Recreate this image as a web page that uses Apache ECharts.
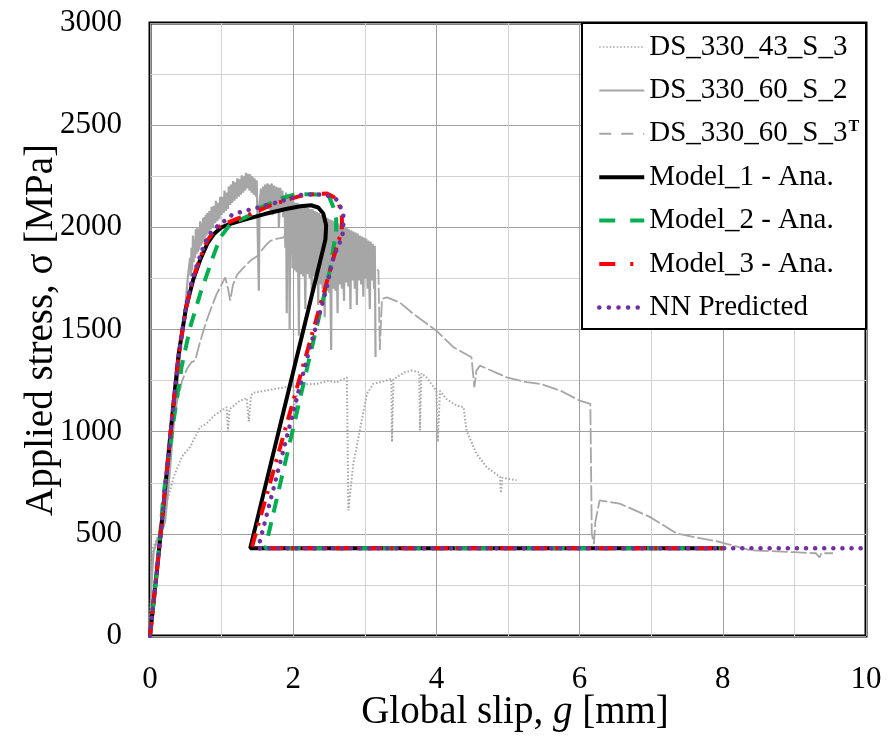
<!DOCTYPE html>
<html>
<head>
<meta charset="utf-8">
<title>Applied stress vs global slip</title>
<script src="https://cdn.jsdelivr.net/npm/echarts@6/dist/echarts.min.js"></script>
<style>
  html, body { margin: 0; padding: 0; background: #fff; }
  #chart { width: 888px; height: 736px; }
</style>
</head>
<body>
<div id="chart"></div>
<script>
// Axis ticks
const xTicks = [0, 2, 4, 6, 8, 10];
const yTicks = [0, 500, 1000, 1500, 2000, 2500, 3000];

// Series names
const seriesNames = ['DS_330_43_S_3', 'DS_330_60_S_2', 'DS_330_60_S_3', 'Model_1 - Ana.', 'Model_2 - Ana.', 'Model_3 - Ana.', 'NN Predicted'];

// Test DS_330_43_S_3 : [slip g (mm), stress (MPa)]
const ds330_43_S3 = [
  [0,0],[0.02,300],[0.04,430],[0.1,480],[0.19,534],[0.23,650],[0.33,778],[0.45,880],[0.56,925],
  [0.7,1022],[0.79,1040],[0.9,1080],[1.0,1103],[1.07,1120],[1.09,1000],[1.11,1110],[1.25,1150],
  [1.35,1165],[1.38,1050],[1.41,1175],[1.44,1190],[1.6,1200],[1.75,1210],[1.9,1217],[2.0,1230],
  [2.03,1060],[2.06,1230],[2.33,1234],[2.5,1250],[2.6,1240],[2.75,1266],[2.77,615],[2.84,843],
  [2.93,1006],[3.03,1185],[3.12,1234],[3.25,1245],[3.37,1258],[3.38,950],[3.40,1255],[3.55,1290],
  [3.65,1299],[3.76,1290],[3.77,1006],[3.79,1285],[3.86,1266],[4.0,1201],[4.02,950],[4.05,1200],
  [4.14,1160],[4.28,1128],[4.38,1120],[4.42,1006],[4.56,892],[4.70,827],[4.89,778],[4.90,700],
  [4.92,775],[5.12,762]
];

// Test DS_330_60_S_2 (noisy record, upper and lower excursions)
const ds330_60_S2 = [
  [0,0],[0.02,250],[0.05,410],[0.1,470],[0.16,510],[0.21,560],[0.25,700],[0.28,820],[0.31,950],
  [0.34,1080],[0.37,1185],[0.40,1300],[0.43,1420],[0.47,1543],[0.50,1640],[0.53,1760],
  [0.56,1850],[0.57,1760],[0.58,1900],[0.59,1790],[0.60,1960],[0.61,1830],[0.62,1940],[0.63,1850],
  [0.64,1990],[0.65,1870],[0.66,2000],[0.67,1880],[0.68,1990],[0.69,1890],[0.70,2030],[0.71,1910],
  [0.72,2020],[0.73,1920],[0.74,2045],[0.75,1930],[0.76,2050],[0.77,1950],[0.78,2060],[0.79,1960],
  [0.80,2070],[0.82,1970],[0.83,2080],[0.85,1990],[0.86,2100],[0.88,2000],[0.89,2105],[0.91,2020],
  [0.92,2130],[0.94,2030],[0.95,2120],[0.97,2040],[0.98,2150],[1.00,2060],[1.01,2150],[1.03,2070],
  [1.04,2180],[1.06,2080],[1.07,2170],[1.09,2090],[1.10,2200],[1.12,2110],[1.13,2210],[1.15,2120],
  [1.16,2226],[1.18,2130],[1.19,2220],[1.21,2140],[1.22,2240],[1.24,2150],[1.25,2235],[1.27,2160],
  [1.28,2255],[1.30,2170],[1.31,2250],[1.33,2180],[1.34,2267],[1.36,2190],[1.37,2262],[1.39,2180],
  [1.40,2259],[1.42,2170],[1.43,2250],[1.45,2160],[1.46,2240],[1.48,2150],[1.49,2230],[1.51,2226],
  [1.52,1690],[1.53,2120],[1.55,2190],[1.56,2080],[1.58,2200],[1.59,2090],[1.61,2210],[1.62,2100],
  [1.64,2215],[1.65,2090],[1.67,2210],[1.68,2080],[1.70,2215],[1.71,2060],[1.73,2205],[1.74,2080],
  [1.76,2200],[1.77,2070],[1.79,2195],[1.80,2000],[1.82,2194],[1.83,2080],[1.85,2180],[1.86,2050],
  [1.88,2150],[1.89,1900],
  [1.90,2170],[1.91,1580],[1.92,2160],[1.93,1880],[1.94,2140],[1.95,1500],[1.96,2150],[1.97,1870],
  [1.98,2130],[1.99,1800],[2.00,2130],[2.02,1790],[2.03,2120],[2.05,1780],[2.06,2120],[2.08,1470],
  [2.09,2110],[2.11,1770],[2.12,2110],[2.14,1760],[2.15,2100],[2.17,1600],[2.18,2100],[2.20,1770],
  [2.21,2095],[2.23,1750],[2.24,2090],[2.26,1660],[2.27,2090],[2.29,1760],[2.30,2080],[2.32,1740],
  [2.33,2075],[2.35,1620],[2.36,2070],[2.38,1720],[2.39,2060],[2.41,1700],[2.42,2060],[2.44,1560],
  [2.45,2050],[2.47,1690],[2.48,2045],[2.50,1680],[2.51,2040],[2.53,1400],[2.54,2035],[2.56,1700],
  [2.57,2030],[2.59,1690],[2.60,2030],[2.62,1580],[2.63,2020],[2.65,1720],[2.66,2010],[2.68,1700],
  [2.69,2005],[2.71,1640],[2.72,2000],[2.74,1730],[2.75,1995],[2.77,1710],[2.78,1990],[2.80,1600],
  [2.81,1985],[2.83,1740],[2.84,1980],[2.86,1700],[2.87,1975],[2.89,1620],[2.90,1970],[2.92,1740],
  [2.93,1960],[2.95,1720],[2.96,1955],[2.98,1660],[2.99,1950],[3.01,1750],[3.02,1945],[3.04,1700],
  [3.05,1935],[3.07,1600],[3.08,1930],[3.10,1740],[3.11,1920],[3.13,1700],[3.14,1910],[3.15,1365]
];

// Test DS_330_60_S_3 (T)
const ds330_60_S3 = [
  [0,0],[0.08,300],[0.15,560],[0.22,780],[0.3,980],[0.38,1150],[0.45,1250],[0.52,1310],[0.58,1340],
  [0.63,1348],[0.7,1440],[0.79,1543],[0.86,1610],[0.93,1673],[1.0,1720],[1.05,1755],[1.09,1700],
  [1.12,1641],[1.16,1720],[1.22,1770],[1.30,1800],[1.40,1836],[1.5,1860],[1.6,1905],[1.68,1934],
  [1.78,1945],[1.86,1950],[1.95,1975],[2.05,1990],[2.3,1950],[2.6,1880],[2.9,1830],[3.1,1800],
  [3.19,1790],[3.21,1400],[3.24,1650],[3.31,1657],[3.49,1632],[3.68,1576],[4.0,1494],[4.24,1413],
  [4.49,1364],[4.53,1217],[4.56,1300],[4.61,1323],[4.98,1266],[5.26,1242],[5.45,1234],[5.73,1201],
  [6.0,1152],[6.15,1136],[6.17,501],[6.2,450],[6.22,560],[6.28,664],[6.56,648],[6.98,583],
  [7.36,501],[7.96,460],[8.38,420],[9.0,410],[9.3,405],[9.35,385],[9.38,405],[9.54,405]
];

// Analytical models and NN prediction
const model1 = [
  [0,0],[0.1,330],[0.2,680],[0.3,1040],[0.4,1380],[0.5,1600],[0.6,1740],[0.7,1840],[0.8,1920],
  [0.9,1970],[1.0,2000],[1.1,2015],[1.3,2035],[1.6,2065],[1.9,2090],[2.1,2103],[2.25,2108],
  [2.35,2097],[2.42,2068],[2.46,2010],[2.45,1940],[1.40,430],[8.0,430]
];
const model2 = [
  [0,0],[0.1,330],[0.19,696],[0.33,1055],[0.44,1315],[0.56,1510],[0.70,1673],[0.86,1836],
  [0.98,1950],[1.12,2015],[1.40,2060],[1.54,2097],[1.86,2145],[2.0,2158],[2.12,2162],[2.49,2160],
  [2.56,2100],[2.60,2040],[2.60,1980],[2.51,1787],[1.61,430],[8.0,430]
];
const model3 = [
  [0,0],[0.1,330],[0.2,680],[0.3,1040],[0.4,1370],[0.5,1600],[0.6,1750],[0.7,1850],[0.8,1935],
  [0.9,1985],[1.0,2010],[1.2,2040],[1.4,2064],[1.72,2113],[2.09,2153],[2.3,2163],[2.47,2165],
  [2.56,2150],[2.64,2115],[2.68,2050],[2.68,1980],[2.62,1920],[1.42,430],[8.0,430]
];
const nnPredicted = [
  [0,0],[0.1,330],[0.2,680],[0.3,1040],[0.4,1370],[0.5,1610],[0.6,1760],[0.7,1860],[0.8,1950],
  [0.9,1995],[1.0,2020],[1.16,2065],[1.54,2100],[1.8,2125],[2.0,2145],[2.14,2162],[2.4,2160],
  [2.55,2150],[2.63,2129],[2.70,2060],[2.70,1990],[2.68,1950],[2.56,1853],[2.47,1706],[2.21,1380],
  [1.51,430],[10,430]
];

const SERIF = '"Liberation Serif", "Times New Roman", serif';
const GREY = '#a6a6a6';

// Line appearance per series: colour, width, dash
const styles = [
  { color: GREY, width: 2, type: [1.5, 2], cap: 'butt' },
  { color: GREY, width: 2.2, type: 'solid', cap: 'butt' },
  { color: GREY, width: 1.8, type: [16, 3], cap: 'butt' },
  { color: '#000000', width: 4, type: 'solid', cap: 'butt' },
  { color: '#00b050', width: 4, type: [14, 10], cap: 'butt' },
  { color: '#ff0000', width: 4, type: [14, 8, 3, 8], cap: 'butt' },
  { color: '#7030a0', width: 4.5, type: [0.1, 9], cap: 'round' }
];
const legendStyles = [
  { width: 1.5, type: [1.5, 2] },
  { width: 2, type: 'solid' },
  { width: 2, type: [12, 10] },
  { width: 4, type: 'solid' },
  { width: 4, type: [16, 15] },
  { width: 4, type: [16, 15, 3, 15] },
  { width: 4.5, type: [0.1, 9.5], cap: 'round' }
];
const seriesData = [ds330_43_S3, ds330_60_S2, ds330_60_S3, model1, model2, model3, nnPredicted];

const chart = echarts.init(document.getElementById('chart'), null, { renderer: 'canvas' });

const option = {
  animation: false,
  backgroundColor: '#fff',
  grid: {
    left: 150, right: 22, top: 23, bottom: 100,
    show: true, borderColor: '#000', borderWidth: 3, backgroundColor: 'transparent'
  },
  xAxis: {
    type: 'value', min: xTicks[0], max: xTicks[xTicks.length - 1], interval: 2,
    axisLine: { show: false },
    axisTick: { show: false },
    axisLabel: { fontFamily: SERIF, fontSize: 31, color: '#000', margin: 28, formatter: v => String(v) },
    splitLine: { show: true, lineStyle: { color: '#a0a0a0', width: 1 } },
    minorTick: { show: false, splitNumber: 2 },
    minorSplitLine: { show: true, lineStyle: { color: '#d2d2d2', width: 1 } }
  },
  yAxis: {
    type: 'value', min: yTicks[0], max: yTicks[yTicks.length - 1], interval: 500,
    axisLine: { show: false },
    axisTick: { show: false },
    axisLabel: { fontFamily: SERIF, fontSize: 31, color: '#000', margin: 28, formatter: v => String(v) },
    splitLine: { show: true, lineStyle: { color: '#a0a0a0', width: 1 } },
    minorTick: { show: false, splitNumber: 2 },
    minorSplitLine: { show: true, lineStyle: { color: '#d2d2d2', width: 1 } }
  },
  legend: {
    orient: 'vertical',
    left: 582, top: 23,
    padding: [9, 10, 8, 15],
    itemWidth: 45, itemHeight: 14, itemGap: 13.4,
    backgroundColor: 'transparent',
    data: seriesNames.map((n, i) => ({
      name: n,
      itemStyle: { opacity: 0 },
      lineStyle: Object.assign({ color: styles[i].color }, legendStyles[i])
    })),
    formatter: function (name) {
      return name === 'DS_330_60_S_3' ? name + '{sup|T}' : name;
    },
    textStyle: {
      fontFamily: SERIF, fontSize: 29, color: '#000', lineHeight: 30,
      rich: {
        sup: { fontFamily: SERIF, fontSize: 16, fontWeight: 'bold', verticalAlign: 'top', lineHeight: 30, padding: [0, 0, 14, 1] }
      }
    }
  },
  graphic: [
    {
      type: 'rect', z: 1,
      shape: { x: 582, y: 23, width: 284, height: 306 },
      style: { fill: '#fff', stroke: '#000', lineWidth: 2 }
    },
    {
      type: 'text', x: 515, y: 713,
      style: {
        text: 'Global slip, {i|g} [mm]',
        font: '39px ' + SERIF, fontSize: 39, fontFamily: SERIF, fill: '#000',
        textAlign: 'center', textVerticalAlign: 'middle', align: 'center', verticalAlign: 'middle',
        rich: { i: { fontStyle: 'italic', fontSize: 39, fontFamily: SERIF } }
      }
    },
    {
      type: 'text', x: 42, y: 330, rotation: Math.PI / 2,
      style: {
        text: 'Applied stress, σ [MPa]',
        font: '39px ' + SERIF, fontSize: 39, fontFamily: SERIF, fill: '#000',
        textAlign: 'center', textVerticalAlign: 'middle', align: 'center', verticalAlign: 'middle'
      }
    }
  ],
  series: seriesNames.map((n, i) => ({
    name: n,
    type: 'line',
    data: seriesData[i],
    symbol: 'none',
    showSymbol: false,
    animation: false,
    lineStyle: { color: styles[i].color, width: styles[i].width, type: styles[i].type, cap: styles[i].cap },
    itemStyle: { color: styles[i].color }
  }))
};

chart.setOption(option);
</script>
</body>
</html>
